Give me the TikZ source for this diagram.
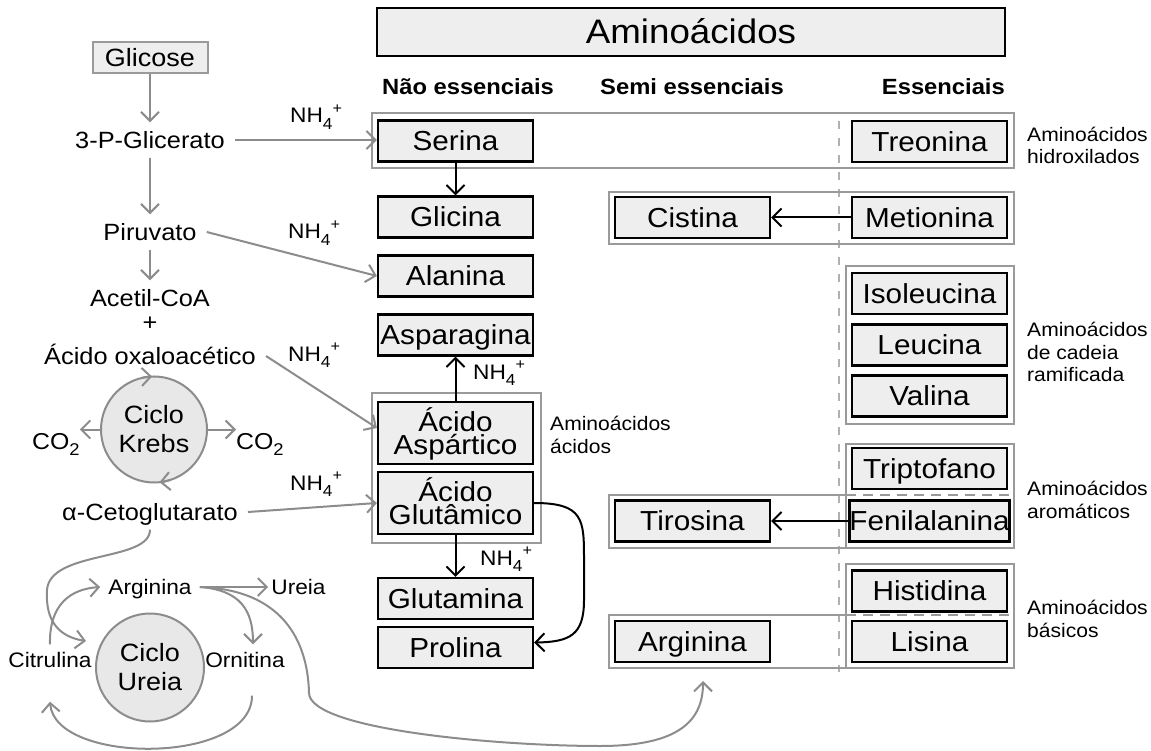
\documentclass[tikz,border=0pt]{standalone}
\usepackage{fontspec}
\setmainfont{Liberation Sans}[FakeStretch=1.08]
\usetikzlibrary{arrows.meta}
\definecolor{boxfill}{HTML}{EEEEEE}
\definecolor{circfill}{HTML}{E8E8E8}
\definecolor{grp}{HTML}{9A9A9A}
\definecolor{arr}{HTML}{8C8C8C}
\definecolor{dsh}{HTML}{B0B0B0}
\newcommand{\nhq}{NH\raisebox{-0.3em}{\fontsize{16}{16}\selectfont 4}\raisebox{0.45em}{\fontsize{15}{15}\selectfont +}}
\newcommand{\cotwo}{CO\raisebox{-0.3em}{\fontsize{17}{17}\selectfont 2}}
\begin{document}
\begin{tikzpicture}[x=1pt,y=-1pt,
  box/.style={draw=black, line width=2.2pt, fill=boxfill, minimum width=155pt, minimum height=41pt, inner sep=0pt, align=center, font=\fontsize{27.5}{23}\selectfont, text height=19.7pt, text depth=0pt},
  box2/.style={box, minimum height=62pt, text height=42.7pt},
  grpbox/.style={draw=grp, line width=2.5pt},
  grpdash/.style={draw=grp, line width=2.5pt, dash pattern=on 10pt off 7pt},
  divline/.style={draw=dsh, line width=2pt, dash pattern=on 8pt off 9pt},
  ga/.style={draw=arr, line width=2pt, -{Straight Barb[length=9pt,width=18pt]}},
  ba/.style={draw=black, line width=2pt, -{Straight Barb[length=9pt,width=18pt]}},
  lbl/.style={font=\fontsize{23.5}{26}\selectfont, text height=17pt, text depth=0pt, inner xsep=10pt, inner ysep=9pt},
  ulbl/.style={font=\fontsize{21}{24}\selectfont, text height=15pt, text depth=0pt, inner xsep=8pt, inner ysep=8pt},
  small/.style={font=\fontsize{19.5}{22.5}\selectfont, align=left, inner sep=0pt, anchor=west},
  hdr/.style={font=\bfseries\fontsize{22}{25}\selectfont, text height=16pt, text depth=0pt, inner sep=0pt},
  nh/.style={font=\fontsize{21}{24}\selectfont, inner sep=0pt, anchor=base west},
  co/.style={font=\fontsize{23}{26}\selectfont, inner sep=0pt, anchor=base west},
  circ/.style={circle, draw=arr, line width=2pt, fill=circfill, minimum size=106pt, inner sep=0pt, align=center, font=\fontsize{25}{29}\selectfont}
]
\useasboundingbox (0,0) rectangle (1151,751);

% divider and groups
\draw[divline] (839,121) -- (839,672);
\draw[grpbox] (372,113) rectangle (1014,168);
\draw[grpbox] (609,192) rectangle (1014,244);
\draw[grpbox] (846,266) rectangle (1014,424);
\draw[grpbox] (372,393) rectangle (541,543);
\draw[grpbox] (846,444) rectangle (1014,548);
\draw[grpbox] (846,495) -- (609,495) -- (609,548) -- (1014,548);
\draw[grpdash] (846,495) -- (1014,495);
\draw[grpbox] (846,564) rectangle (1014,668);
\draw[grpbox] (846,615) -- (609,615) -- (609,668) -- (1014,668);
\draw[grpdash] (846,615) -- (1014,615);

% title and headers
\node[box, minimum width=628pt, minimum height=48pt, font=\fontsize{34}{34}\selectfont, text height=24pt] (title) at (691,32) {Aminoácidos};
\node[hdr] (hne) at (468,87) {Não essenciais};
\node[hdr] (hse) at (692,87) {Semi essenciais};
\node[hdr, anchor=east] (hes) at (1005,87) {Essenciais};

% amino acid boxes
\node[box] (ser) at (455.5,141) {Serina};
\node[box] (gli) at (455.5,217) {Glicina};
\node[box] (ala) at (455.5,276) {Alanina};
\node[box] (asn) at (455.5,335) {Asparagina};
\node[box2] (asp) at (455.5,433) {Ácido\\Aspártico};
\node[box2] (glu) at (455.5,503) {Ácido\\Glutâmico};
\node[box] (gln) at (455.5,598.5) {Glutamina};
\node[box] (pro) at (455.5,647.5) {Prolina};
\node[box] (cis) at (692.5,217.5) {Cistina};
\node[box] (tyr) at (692.5,521) {Tirosina};
\node[box] (arg) at (692.5,641.5) {Arginina};
\node[box] (thr) at (929.5,141.5) {Treonina};
\node[box] (met) at (929.5,217.5) {Metionina};
\node[box] (ile) at (929.5,293.5) {Isoleucina};
\node[box] (leu) at (929.5,345) {Leucina};
\node[box] (val) at (929.5,396) {Valina};
\node[box] (trp) at (929.5,468.5) {Triptofano};
\node[box] (phe) at (929.5,521) {Fenilalanina};
\node[box] (his) at (929.5,591) {Histidina};
\node[box] (lys) at (929.5,641.5) {Lisina};

% group labels
\node[small] (lhyd) at (1027,145.5) {Aminoácidos\\hidroxilados};
\node[small] (lram) at (1027,352) {Aminoácidos\\de cadeia\\ramificada};
\node[small] (lacd) at (550,435) {Aminoácidos\\ácidos};
\node[small] (laro) at (1027,500) {Aminoácidos\\aromáticos};
\node[small] (lbas) at (1027,619) {Aminoácidos\\básicos};

% left metabolism
\node[draw=grp, line width=2pt, fill=boxfill, minimum width=115pt, minimum height=31pt, inner sep=0pt, font=\fontsize{25}{25}\selectfont, text height=18pt, text depth=0pt] (glc) at (150,57.5) {Glicose};
\node[lbl] (p3) at (150,140) {3-P-Glicerato};
\node[lbl] (pir) at (150,232) {Piruvato};
\node[lbl] (acc) at (150,298) {Acetil-CoA};
\node[font=\fontsize{23.5}{26}\selectfont, inner sep=0pt] (plus) at (150,324) {+};
\node[lbl] (oxa) at (150,356) {Ácido oxaloacético};
\node[circ] (krebs) at (154,429.5) {Ciclo\\Krebs};
\node[co] (co2l) at (32,449) {\cotwo};
\node[co] (co2r) at (236,449) {\cotwo};
\node[lbl] (akg) at (150,512) {α-Cetoglutarato};
\node[circ, minimum size=108pt] (urea) at (150,667.5) {Ciclo\\Ureia};
\node[ulbl] (cit) at (50,660) {Citrulina};
\node[ulbl] (orn) at (245,660) {Ornitina};
\node[ulbl] (argl) at (150,587) {Arginina};
\node[ulbl, inner xsep=3pt] (ure) at (298.5,587) {Ureia};

\node[nh] (nh1) at (290,123) {\nhq};
\node[nh] (nh2) at (288,239) {\nhq};
\node[nh] (nh3) at (288,361) {\nhq};
\node[nh] (nh4) at (290,490) {\nhq};
\node[nh] (nh5) at (473,379) {\nhq};
\node[nh] (nh6) at (480,565) {\nhq};

\coordinate (ucin) at (86,641);
\coordinate (argin) at (703,681);

% gray connectors
\draw[ga] (glc.south) -- (p3.north);
\draw[ga] (p3.south) -- (pir.north);
\draw[ga] (pir.south) -- (acc.north);
\draw[ga] (p3.east) -- (p3.east -| ser.west);
\draw[ga] (pir.east) -- (ala.west);
\draw[ga] (oxa.east) -- ([yshift=5pt]asp.west);
\draw[ga] (akg.east) -- (glu.west);
\draw[ga] (krebs.west) -- (krebs.west -| co2l.east);
\draw[ga] (krebs.east) -- (krebs.east -| co2r.west);
\draw[ga] ([shift={(256:53)}]krebs.center) arc (256:268:53);
\draw[ga] ([shift={(72:53)}]krebs.center) arc (72:84:53);

\draw[ga] (cit.north) .. controls (49,605) and (70,589) .. (argl.west);
\draw[ga] (argl.east) -- (ure.west);
\draw[ga] (argl.east) .. controls (240,590) and (253,610) .. ([xshift=8pt]orn.north);
\draw[ga] ([xshift=7pt,yshift=-20pt]orn.south) .. controls (252,765) and (55,765) .. ([yshift=-26pt]cit.south);
\draw[ga] (akg.south) .. controls (150,562) and (50,550) .. (47,590) .. controls (45,622) and (60,637) .. (ucin);
\draw[ga] (argl.east) .. controls (290,590) and (308,650) .. (309,693) .. controls (310,730) and (500,746) .. (600,746) .. controls (680,746) and (703,720) .. (argin);

% black connectors
\draw[ba] (ser.south) -- (gli.north);
\draw[ba] (asp.north) -- (asn.south);
\draw[ba] (glu.south) -- (gln.north);
\draw[ba] (met.west) -- (cis.east);
\draw[ba] (phe.west) -- (tyr.east);
\draw[ba] (glu.east) .. controls (584,503) and (584,520) .. (584,560) -- (584,600) .. controls (584,635) and (570,642) .. ([yshift=5pt]pro.east);
\end{tikzpicture}
\end{document}
